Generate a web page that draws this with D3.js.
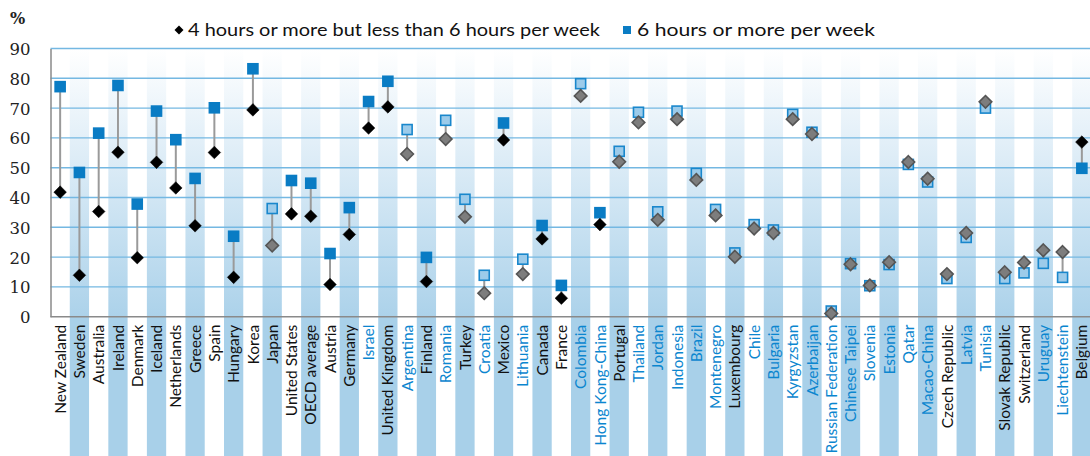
<!DOCTYPE html>
<html><head><meta charset="utf-8">
<script src="https://cdn.jsdelivr.net/npm/d3@7"></script>
<style>html,body{margin:0;padding:0;background:#fff;}svg{display:block;}</style>
</head><body>
<svg id="chart" width="1090" height="456"></svg>
<script>
const categories = ["New Zealand","Sweden","Australia","Ireland","Denmark","Iceland","Netherlands","Greece","Spain","Hungary","Korea","Japan","United States","OECD average","Austria","Germany","Israel","United Kingdom","Argentina","Finland","Romania","Turkey","Croatia","Mexico","Lithuania","Canada","France","Colombia","Hong Kong-China","Portugal","Thailand","Jordan","Indonesia","Brazil","Montenegro","Luxembourg","Chile","Bulgaria","Kyrgyzstan","Azerbaijan","Russian Federation","Chinese Taipei","Slovenia","Estonia","Qatar","Macao-China","Czech Republic","Latvia","Tunisia","Slovak Republic","Switzerland","Uruguay","Liechtenstein","Belgium"];
const hours4to6 = [41.8,13.9,35.3,55.2,19.8,51.8,43.2,30.5,55.1,13.2,69.4,23.9,34.5,33.7,10.8,27.6,63.3,70.4,54.6,11.8,59.6,33.5,7.9,59.3,14.3,26.1,6.2,74.1,30.9,52.0,65.2,32.5,66.3,45.9,34.0,20.1,29.6,28.1,66.3,61.3,1.1,17.6,10.5,18.3,51.9,46.3,14.3,28.1,72.1,14.9,18.2,22.3,21.7,58.6];
const hours6plus = [77.2,48.4,61.6,77.6,37.8,69.0,59.4,46.4,70.1,27.0,83.2,36.3,45.7,44.8,21.2,36.6,72.2,79.0,62.8,19.9,65.9,39.4,13.9,65.0,19.3,30.6,10.5,78.2,34.9,55.5,68.6,35.2,69.0,48.1,36.0,21.4,30.9,29.1,67.9,61.9,1.9,17.8,10.4,17.5,51.1,45.2,12.8,26.6,70.0,12.8,14.7,17.9,13.2,49.8];
// 1 = difference statistically significant (dark markers), 0 = not significant (light markers)
const significant = [1,1,1,1,1,1,1,1,1,1,1,0,1,1,1,1,1,1,0,1,0,0,0,1,0,1,1,0,1,0,0,0,0,0,0,0,0,0,0,0,0,0,0,0,0,0,0,0,0,0,0,0,0,1];
// 1 = label in blue, 0 = label in black
const labelBlue = [0,0,0,0,0,0,0,0,0,0,0,0,0,0,0,0,1,0,1,0,1,0,1,0,1,0,0,1,1,0,1,1,1,1,1,0,1,1,1,1,1,1,1,1,1,1,0,1,1,0,0,1,1,0];
const yTicks = [0,10,20,30,40,50,60,70,80,90];
const legendLabels = ["4 hours or more but less than 6 hours per week","6 hours or more per week"];
const yUnit = "%";

const svg = d3.select("#chart");
const mLeft = 50.5, mRight = 1091.5, mTop = 48.5, mBottom = 316.7;
const x = d3.scaleBand().domain(categories).range([mLeft, mRight]).padding(0);
const y = d3.scaleLinear().domain([0, 90]).range([mBottom, mTop]);
const data = categories.map((c,i)=>({c, a: hours4to6[i], b: hours6plus[i], sig: significant[i], blue: labelBlue[i], i}));

const defs = svg.append("defs");
const grad = defs.append("linearGradient").attr("id","stripeGrad").attr("x1",0).attr("x2",0).attr("y1",0).attr("y2",1);
grad.append("stop").attr("offset","0%").attr("stop-color","#ffffff");
grad.append("stop").attr("offset","35%").attr("stop-color","#e2eff8");
grad.append("stop").attr("offset","100%").attr("stop-color","#acd2ea");

// stripes in plot
svg.append("g").selectAll("rect").data(data.filter(d=>d.i%2===1)).join("rect")
  .attr("x", d=>x(d.c)).attr("width", x.bandwidth())
  .attr("y", mTop).attr("height", mBottom-mTop)
  .attr("fill","url(#stripeGrad)");
// stripes in label area
svg.append("g").selectAll("rect").data(data.filter(d=>d.i%2===1)).join("rect")
  .attr("x", d=>x(d.c)).attr("width", x.bandwidth())
  .attr("y", mBottom).attr("height", 456-mBottom)
  .attr("fill","#a8d0e9");

// gridlines
svg.append("g").selectAll("line").data(yTicks.filter(t=>t>0)).join("line")
  .attr("x1", mLeft).attr("x2", mRight).attr("y1", d=>y(d)).attr("y2", d=>y(d))
  .attr("stroke","#74b8e2").attr("stroke-width",1.4);

// axes
const yAxis = d3.axisLeft(y).tickValues(yTicks).tickSize(0).tickPadding(20);
const gy = svg.append("g").attr("transform",`translate(${mLeft},0)`).call(yAxis);
gy.select(".domain").attr("stroke","#8a8a8a").attr("stroke-width",1.5);
gy.selectAll("text").attr("font-family","DejaVu Serif").attr("font-size","16.5px").attr("fill","#222").attr("dy","0.36em");

svg.append("line").attr("x1",mLeft).attr("x2",mRight).attr("y1",mBottom).attr("y2",mBottom)
  .attr("stroke","#8a8a8a").attr("stroke-width",1.5);

// x labels
const xAxis = d3.axisBottom(x).tickSize(0).tickPadding(0);
const gx = svg.append("g").attr("transform",`translate(0,${mBottom})`).call(xAxis);
gx.select(".domain").remove();
gx.selectAll(".tick text")
  .attr("transform","translate(0,8) rotate(-90)")
  .attr("x",0).attr("y",0).attr("dy","0.36em")
  .attr("text-anchor","end")
  .attr("font-family","Lato").attr("font-size","15.5px")
  .attr("fill", (d,i)=> labelBlue[i] ? "#0b86cf" : "#111");

// connectors
svg.append("g").selectAll("line").data(data).join("line")
  .attr("x1", d=>x(d.c)+x.bandwidth()/2).attr("x2", d=>x(d.c)+x.bandwidth()/2)
  .attr("y1", d=>y(d.a)).attr("y2", d=>y(d.b))
  .attr("stroke","#9a9a9a").attr("stroke-width",2);

// squares (6+ hours)
const sq = 10;
svg.append("g").selectAll("rect").data(data).join("rect")
  .attr("x", d=>x(d.c)+x.bandwidth()/2 - sq/2).attr("y", d=>y(d.b)-sq/2)
  .attr("width", sq).attr("height", sq)
  .attr("fill", d=> d.sig ? "#0a7cc4" : "#9ccbea")
  .attr("stroke", d=> d.sig ? "#0a7cc4" : "#1987cc").attr("stroke-width", 1.6);

// diamonds (4-6 hours)
const dm = 6.3;
const diamond = `M0,${-dm}L${dm},0L0,${dm}L${-dm},0Z`;
svg.append("g").selectAll("path").data(data).join("path")
  .attr("transform", d=>`translate(${x(d.c)+x.bandwidth()/2},${y(d.a)})`)
  .attr("d", diamond)
  .attr("fill", d=> d.sig ? "#000" : "#7d7d7d")
  .attr("stroke", d=> d.sig ? "#000" : "#555").attr("stroke-width", d=> d.sig ? 0.5 : 1.6);

// unit label
svg.append("text").attr("x",10).attr("y",24).text(yUnit)
  .attr("font-family","DejaVu Serif").attr("font-size","16px").attr("font-weight","bold").attr("fill","#222");

// legend
const lg = svg.append("g");
lg.append("path").attr("d","M0,-4.5L4.5,0L0,4.5L-4.5,0Z").attr("transform","translate(179,30)").attr("fill","#000");
lg.append("text").attr("x",188).attr("y",36).text(legendLabels[0])
  .attr("font-family","Lato").attr("font-size","18px").attr("fill","#111")
  .attr("textLength",412).attr("lengthAdjust","spacingAndGlyphs");
lg.append("rect").attr("x",623).attr("y",26).attr("width",8).attr("height",8).attr("fill","#0a7cc4");
lg.append("text").attr("x",637).attr("y",36).text(legendLabels[1])
  .attr("font-family","Lato").attr("font-size","18px").attr("fill","#111")
  .attr("textLength",238).attr("lengthAdjust","spacingAndGlyphs");
</script>
</body></html>
